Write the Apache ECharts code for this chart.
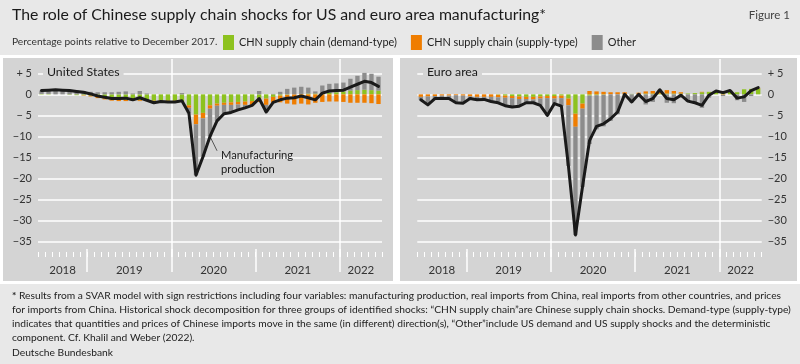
<!DOCTYPE html>
<html>
<head>
<meta charset="utf-8">
<script src="https://cdn.jsdelivr.net/npm/echarts@6/dist/echarts.min.js"></script>
<style>
  html, body { margin:0; padding:0; background:#ffffff; }
  #wrap { position:relative; width:800px; height:364px; overflow:hidden; }
  .bg { position:absolute; }
  #chart { position:absolute; left:0; top:0; width:800px; height:364px; }
</style>
</head>
<body>
<div id="wrap">
  <div class="bg" style="left:0;top:0;width:800px;height:55px;background:#e8e8e8"></div>
  <div class="bg" style="left:3px;top:58px;width:390px;height:223px;background:#d4d4d4"></div>
  <div class="bg" style="left:400px;top:58px;width:397px;height:223px;background:#d4d4d4"></div>
  <div class="bg" style="left:0;top:284px;width:800px;height:80px;background:#e8e8e8"></div>
  <div id="chart"></div>
</div>
<script>
// ---------------- data ----------------
const months = [
  '2018-06','2018-07','2018-08','2018-09','2018-10','2018-11','2018-12',
  '2019-01','2019-02','2019-03','2019-04','2019-05','2019-06','2019-07','2019-08','2019-09','2019-10','2019-11','2019-12',
  '2020-01','2020-02','2020-03','2020-04','2020-05','2020-06','2020-07','2020-08','2020-09','2020-10','2020-11','2020-12',
  '2021-01','2021-02','2021-03','2021-04','2021-05','2021-06','2021-07','2021-08','2021-09','2021-10','2021-11','2021-12',
  '2022-01','2022-02','2022-03','2022-04','2022-05','2022-06'
];
const yearLabels = ['2018','2019','2020','2021','2022'];
const fullLineYears = ['2020','2022'];

// United States
const usLine   = [0.9,1.0,1.1,1.0,0.9,0.7,0.5,0.1,-0.4,-0.7,-1.0,-1.0,-0.9,-1.3,-0.8,-1.4,-2.0,-1.7,-1.8,-1.8,-1.5,-4.5,-19.2,-14.8,-10.0,-6.3,-4.6,-4.3,-3.7,-3.2,-2.6,-1.0,-4.2,-1.9,-1.3,-0.9,-0.8,-0.4,-0.8,-1.3,0.3,0.8,0.9,1.0,1.7,2.4,3.1,2.8,1.9];
const usDemand = [0.1,0.1,0.0,0.0,-0.1,-0.2,-0.2,-0.3,-0.6,-0.9,-1.1,-1.2,-1.3,-1.3,-1.4,-1.4,-1.5,-1.5,-1.5,-1.5,-1.6,-2.6,-4.8,-4.4,-2.6,-2.2,-2.0,-1.9,-1.8,-1.7,-1.6,-1.0,-1.0,-0.6,-0.3,-0.1,0.0,0.1,0.2,0.2,0.3,0.4,0.5,0.7,0.9,1.0,1.1,1.0,0.9];
const usSupply = [0,0,0,0,0,0,-0.1,-0.2,-0.3,-0.3,-0.4,-0.4,-0.3,-0.2,-0.2,-0.2,-0.1,-0.1,-0.1,-0.2,-0.2,-0.6,-2.3,-1.3,-0.8,-0.5,-0.5,-0.6,-0.6,-0.8,-1.0,-0.8,-1.5,-1.4,-1.6,-2.1,-2.4,-2.2,-2.4,-2.0,-1.8,-1.7,-1.7,-1.8,-2.0,-2.0,-2.0,-2.1,-2.3];
const usOther  = [0.8,0.9,1.1,1.0,1.0,0.9,0.8,0.6,0.5,0.5,0.5,0.6,0.7,0.2,0.8,0.2,-0.4,-0.1,-0.2,-0.1,0.3,-1.3,-12.1,-9.1,-6.6,-3.6,-2.1,-1.8,-1.3,-0.7,0.0,0.8,-1.7,0.1,0.6,1.3,1.6,1.7,1.4,0.5,1.8,2.1,2.1,2.1,2.8,3.4,4.0,3.9,3.3];

// Euro area
const eaLine   = [-1.3,-2.5,-1.0,-1.0,-1.0,-2.0,-2.1,-1.0,-1.3,-1.2,-1.7,-2.0,-2.7,-3.0,-2.8,-2.0,-2.0,-2.6,-5.0,-2.2,-2.8,-17.0,-33.4,-22.0,-11.0,-7.6,-7.0,-5.8,-4.2,0.0,-1.8,0.0,-1.7,-1.0,1.1,-1.0,-1.3,-0.2,-1.6,-2.0,-2.6,-0.2,0.8,0.4,0.9,-0.9,-0.6,0.9,1.6];
const eaDemand = [0,0,0,0,0,0,0,0,0,0,0,-0.1,-0.3,-0.4,-0.5,-0.6,-0.6,-0.5,-0.4,-0.4,-0.3,-1.0,-4.6,-2.2,-0.3,-0.2,-0.1,0,0,0.1,0.1,0.1,0.2,0.2,0.2,0.2,0.2,0.2,0.2,0.3,0.5,0.6,0.7,0.8,0.6,0.5,1.2,1.3,1.4];
const eaSupply = [-0.6,-0.5,-0.4,-0.3,-0.3,-0.2,-0.3,-0.5,-0.6,-0.6,-0.6,-0.6,-0.5,-0.5,-0.6,-0.5,-0.6,-0.5,-0.5,-0.6,-0.6,-1.6,-3.1,-1.2,0.8,0.7,0.6,0.5,0.5,0.4,0.0,0.3,0.5,0.6,0.7,0.8,0.6,0.3,0.0,0.0,0.1,0.0,0.0,-0.1,0.0,0.0,0.0,0.0,0.1];
const eaOther  = [-0.7,-2.0,-0.6,-0.7,-0.7,-1.8,-1.8,-0.5,-0.7,-0.6,-1.1,-1.3,-1.9,-2.1,-1.7,-0.9,-0.8,-1.6,-4.1,-1.2,-1.9,-14.4,-25.7,-18.6,-11.5,-8.1,-7.5,-6.3,-4.7,-0.5,-1.9,-0.4,-2.4,-1.8,0.2,-2.0,-2.1,-0.7,-1.8,-2.3,-3.2,-0.8,0.1,-0.3,0.3,-1.4,-1.8,-0.4,0.1];

const names = {
  demand: 'CHN supply chain (demand-type)',
  supply: 'CHN supply chain (supply-type)',
  other: 'Other',
  line: 'Manufacturing production'
};
const colors = { demand:'#8dc21f', supply:'#ef7d00', other:'#8c8c8c', line:'#1a1a1a' };

// ---------------- helpers ----------------
const FONT = "Lato, 'Open Sans', sans-serif";
const PANEL_BG = '#d4d4d4';

// half-month boundary points for the time axis ticks / labels
const halfPts = [];
months.forEach(m => { halfPts.push(m + 'a'); halfPts.push(m + 'b'); });
halfPts.push('end');
const labelAt = {};
const sepIdx = new Set();
const fullIdx = new Set();
yearLabels.forEach(y => {
  const f = months.findIndex(m => m.startsWith(y));
  let l = -1; months.forEach((m, i) => { if (m.startsWith(y)) l = i; });
  labelAt[f + l + 1] = y;
  if (f > 0) sepIdx.add(2 * f);
  if (fullLineYears.includes(y)) fullIdx.add(2 * f);
});

function yFmt(v) {
  if (v > 0) return '+ ' + v;
  if (v === 0) return '0';
  return (v > -10 ? '\u2212 ' : '\u2212') + Math.abs(v);
}

const panels = [
  { left: 38, width: 344, ypos: 'left', data: [usDemand, usSupply, usOther, usLine], stack: 'us' },
  { left: 417.3, width: 344.4, ypos: 'right', data: [eaDemand, eaSupply, eaOther, eaLine], stack: 'ea' }
];
const TOP5 = 73.3, H = 168.4;

const grid = [], xAxis = [], yAxis = [], series = [];
panels.forEach((p, pi) => {
  const g0 = grid.length;
  grid.push({ left: p.left, top: TOP5, width: p.width, height: H });          // data
  grid.push({ left: p.left, top: 59, width: p.width, height: 198 });          // ticks, labels, full lines
  grid.push({ left: p.left, top: 249, width: p.width, height: 23 });          // year separators

  xAxis.push({ gridIndex: g0, type: 'category', data: months, boundaryGap: true,
    axisLine:{show:false}, axisTick:{show:false}, axisLabel:{show:false}, splitLine:{show:false} });
  yAxis.push({ gridIndex: g0, type: 'value', min: -35, max: 5, interval: 5, position: p.ypos,
    axisLine:{show:false}, axisTick:{show:false},
    splitLine:{ show:true, lineStyle:{ color:'#ffffff', width:1.5 } },
    axisLabel:{ margin: 6, fontFamily: FONT, fontSize: 11, color:'#333', formatter: yFmt } });

  xAxis.push({ gridIndex: g0 + 1, type: 'category', data: halfPts, boundaryGap: false,
    axisLine:{show:false},
    axisTick:{ show:true, inside:true, length:5, interval: i => i % 2 === 0, lineStyle:{ color:'#ffffff', width:1 } },
    axisLabel:{ show:true, margin: 7, interval: i => labelAt[i] !== undefined,
      formatter: (v, i) => labelAt[i] || '', fontFamily: FONT, fontSize: 11.5, color:'#333' },
    splitLine:{ show:true, interval: i => fullIdx.has(i), lineStyle:{ color:'#ffffff', width:1.5 } } });
  yAxis.push({ gridIndex: g0 + 1, type: 'value', show: false });

  xAxis.push({ gridIndex: g0 + 2, type: 'category', data: halfPts, boundaryGap: false,
    axisLine:{show:false}, axisTick:{show:false}, axisLabel:{show:false},
    splitLine:{ show:true, interval: i => sepIdx.has(i), lineStyle:{ color:'#ffffff', width:1.5 } } });
  yAxis.push({ gridIndex: g0 + 2, type: 'value', show: false });

  const [dDem, dSup, dOth, dLine] = p.data;
  const barBase = { type:'bar', xAxisIndex: g0, yAxisIndex: g0, stack: p.stack, barWidth: '62%', clip: false };
  series.push(Object.assign({}, barBase, { name: names.demand, data: dDem, itemStyle:{ color: colors.demand } }));
  series.push(Object.assign({}, barBase, { name: names.supply, data: dSup, itemStyle:{ color: colors.supply } }));
  series.push(Object.assign({}, barBase, { name: names.other,  data: dOth, itemStyle:{ color: colors.other } }));
  const lineSeries = { type:'line', name: names.line, xAxisIndex: g0, yAxisIndex: g0, data: dLine,
    symbol:'none', z: 5, lineStyle:{ color: colors.line, width: 3, join:'round', cap:'round' } };
  if (pi === 0) {
    lineSeries.markLine = { silent: true, symbol: 'none', animation: false,
      lineStyle:{ color:'#555', width:1, type:'solid' }, label:{ show:false },
      data: [[ { coord: [24, -10.0] }, { coord: [25, -13.4] } ]] };
    lineSeries.markPoint = { silent: true, symbol: 'rect', symbolSize: 0, animation: false,
      data: [{ coord: [25, -16.2], value: 0 }],
      label: { show: true, position: 'right', distance: 4, formatter: 'Manufacturing\nproduction',
        fontFamily: FONT, fontSize: 11.2, lineHeight: 13.5, color: '#1a1a1a', align: 'left' } };
  }
  series.push(lineSeries);
});

const footLines = [
  'Results from a SVAR model with sign restrictions including four variables: manufacturing production, real imports from China, real imports from other countries, and prices',
  'for imports from China. Historical shock decomposition for three groups of identified shocks: \u201cCHN supply chain\u201dare Chinese supply chain shocks. Demand-type (supply-type)',
  'indicates that quantities and prices of Chinese imports move in the same (in different) direction(s), \u201cOther\u201dinclude US demand and US supply shocks and the deterministic',
  'component. Cf. Khalil and Weber (2022).'
];

const option = {
  animation: false,
  backgroundColor: 'transparent',
  textStyle: { fontFamily: FONT },
  title: [
    { text: 'The role of Chinese supply chain shocks for US and euro area manufacturing*', left: 12, top: 7, padding: 0,
      textStyle: { fontFamily: FONT, fontSize: 15.8, fontWeight: 'normal', color: '#1a1a1a' } },
    { text: 'Figure 1', right: 10, top: 9, padding: 0,
      textStyle: { fontFamily: FONT, fontSize: 11.5, fontWeight: 'normal', color: '#444' } },
    { text: 'Percentage points relative to December 2017.', left: 12, top: 37, padding: 0,
      textStyle: { fontFamily: FONT, fontSize: 10.2, fontWeight: 'normal', color: '#333' } },
    { text: 'United States', left: 43, top: 65, padding: [1, 4], backgroundColor: PANEL_BG,
      textStyle: { fontFamily: FONT, fontSize: 12.3, fontWeight: 'normal', color: '#1a1a1a' } },
    { text: 'Euro area', left: 423, top: 65, padding: [1, 4], backgroundColor: PANEL_BG,
      textStyle: { fontFamily: FONT, fontSize: 12.3, fontWeight: 'normal', color: '#1a1a1a' } },
    { text: '{b|*} ' + footLines.join('\n'), left: 12, top: 289, padding: 0,
      textStyle: { fontFamily: FONT, fontSize: 10.25, lineHeight: 14, fontWeight: 'normal', color: '#222',
        rich: { b: { fontFamily: FONT, fontSize: 10.25, fontWeight: 'bold', color: '#222' } } } },
    { text: 'Deutsche Bundesbank', left: 12, top: 348, padding: 0,
      textStyle: { fontFamily: FONT, fontSize: 10.25, fontWeight: 'normal', color: '#222' } }
  ],
  legend: {
    data: [names.demand, names.supply, names.other],
    left: 223, top: 35, padding: 0, itemWidth: 11, itemHeight: 15, itemGap: 14, icon: 'rect',
    selectedMode: false,
    textStyle: { fontFamily: FONT, fontSize: 10.9, color: '#222' }
  },
  grid, xAxis, yAxis, series
};

const chart = echarts.init(document.getElementById('chart'), null, { renderer: 'canvas' });
chart.setOption(option);
</script>
</body>
</html>
